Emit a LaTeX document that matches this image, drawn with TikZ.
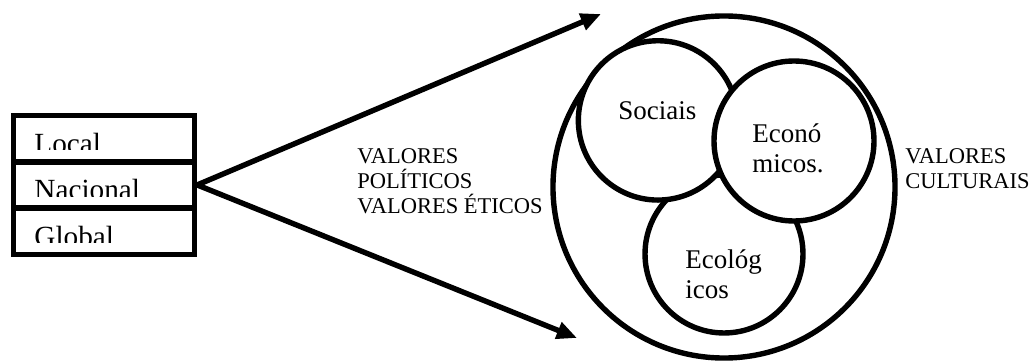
\documentclass[tikz,border=0pt]{standalone}
\usepackage{fontspec}
\setmainfont{Liberation Serif}
\usetikzlibrary{arrows.meta}

\begin{document}
\begin{tikzpicture}[x=0.4444pt, y=-0.4444pt,
    thick line/.style={line width=2.4pt},
    level/.style={draw, thick line, rectangle, minimum width=80.4pt, minimum height=20.6pt, inner sep=0pt},
    levelname/.style={anchor=base west, inner sep=0pt, font=\fontsize{13}{15}\selectfont},
    ring/.style={draw, thick line, circle, fill=white, inner sep=0pt},
    ringtext/.style={anchor=north west, inner sep=0pt, align=left, font=\fontsize{12}{13.3}\selectfont},
    values/.style={anchor=north west, inner sep=0pt, align=left, font=\fontsize{10}{11.1}\selectfont},
    flow/.style={thick line, -{Triangle[length=9pt,width=7.5pt]}}]
    \useasboundingbox (0,0) rectangle (1034,362);

    % levels
    \foreach \n/\txt [count=\i] in {local/Local, nacional/Nacional, global/Global} {
        \pgfmathsetmacro{\ytop}{115.5+46.3*(\i-1)}
        \node[level] (\n) at (104,\ytop+23.15) {};
        \begin{scope}
            \clip (13.5,\ytop) rectangle (194.5,\ytop+34.5);
            \node[levelname] (\n-txt) at (34,\ytop+38) {\txt};
        \end{scope}
    }

    % arrows
    \coordinate (upper tip) at (601,14);
    \coordinate (lower tip) at (577,338);
    \draw[flow] (nacional.east) -- (upper tip);
    \draw[flow] (nacional.east) -- (lower tip);

    \node[values] (politicos) at (357,148) {VALORES\\POLÍTICOS\\VALORES ÉTICOS};

    % circles
    \node[ring, minimum size=152pt] (culturais) at (724,187) {};
    \node[ring, minimum size=70.2pt] (ecologicos) at (724,254) {};
    \node[ring, minimum size=70.8pt] (sociais) at (658,120.4) {};
    \node[ring, minimum size=71.1pt] (economicos) at (794,141) {};

    \node[ringtext, anchor=base west] (sociais-txt) at (618,120) {Sociais};
    \node[ringtext] (economicos-txt) at (752,123.5) {Econó\\micos.};
    \node[ringtext] (ecologicos-txt) at (685,249.3) {Ecológ\\icos};

    \node[values] (culturais-txt) at (905,148) {VALORES\\CULTURAIS};
\end{tikzpicture}
\end{document}
